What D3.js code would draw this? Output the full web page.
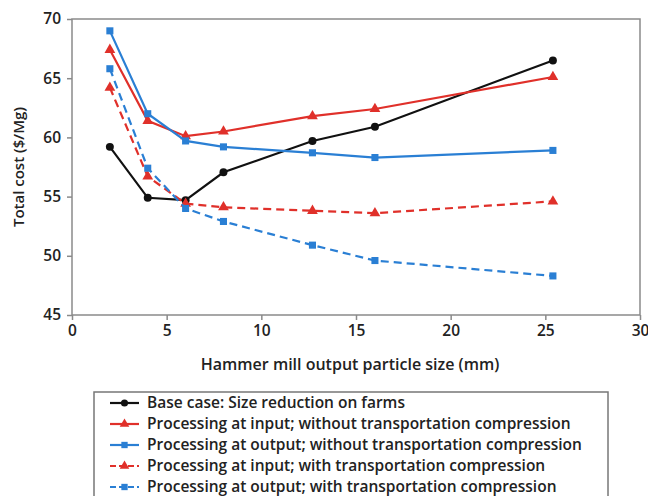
<!DOCTYPE html>
<html><head><meta charset="utf-8">
<script src="https://cdn.jsdelivr.net/npm/d3@7"></script>
<style>body{margin:0;background:#fff}svg{display:block}text{font-family:"Open Sans",Lato,sans-serif;font-weight:600;fill:#222}</style>
</head><body><svg id="c" width="648" height="496"></svg>
<script>
const sizes = [2, 4, 6, 8, 12.7, 16, 25.4];
const baseCase = [59.2, 54.9, 54.7, 57.05, 59.7, 60.9, 66.5];
const inputNoComp = [67.4, 61.4, 60.1, 60.5, 61.8, 62.4, 65.1];
const outputNoComp = [69.0, 62.0, 59.7, 59.2, 58.7, 58.3, 58.9];
const inputComp = [64.2, 56.7, 54.4, 54.1, 53.8, 53.6, 54.6];
const outputComp = [65.8, 57.4, 54.0, 52.9, 50.9, 49.6, 48.3];
const seriesNames = ["Base case: Size reduction on farms",
  "Processing at input; without transportation compression",
  "Processing at output; without transportation compression",
  "Processing at input; with transportation compression",
  "Processing at output; with transportation compression"];
const xTicks = [0, 5, 10, 15, 20, 25, 30];
const yTicks = [45, 50, 55, 60, 65, 70];

const series = [
  {name: seriesNames[0], values: baseCase, color: "#111", dash: null, marker: "circle"},
  {name: seriesNames[1], values: inputNoComp, color: "#e0302a", dash: null, marker: "triangle"},
  {name: seriesNames[2], values: outputNoComp, color: "#2a7fd4", dash: null, marker: "square"},
  {name: seriesNames[3], values: inputComp, color: "#e0302a", dash: "8,5", marker: "triangle"},
  {name: seriesNames[4], values: outputComp, color: "#2a7fd4", dash: "8,5", marker: "square"}
];

const svg = d3.select("#c");
const L = 72, R = 640, T = 19, B = 315;
const x = d3.scaleLinear().domain([0, 30]).range([L, R]);
const y = d3.scaleLinear().domain([45, 70]).range([B, T]);

svg.append("rect").attr("x", L).attr("y", T).attr("width", R - L).attr("height", B - T)
  .attr("fill", "none").attr("stroke", "#8a8a8a").attr("stroke-width", 1.5);

const xa = svg.append("g").attr("transform", `translate(0,${B})`)
  .call(d3.axisBottom(x).tickValues(xTicks).tickSize(5).tickPadding(5).tickFormat(d3.format("d")));
const ya = svg.append("g").attr("transform", `translate(${L},0)`)
  .call(d3.axisLeft(y).tickValues(yTicks).tickSize(5).tickPadding(6).tickFormat(d3.format("d")));
[xa, ya].forEach(g => {
  g.select(".domain").remove();
  g.selectAll("line").attr("stroke", "#8a8a8a").attr("stroke-width", 1.5);
  g.selectAll("text").style("font-size", "15.5px").style("font-family", "'Open Sans', sans-serif")
    .style("font-weight", "600").attr("fill", "#222");
});

svg.append("text").attr("x", 350).attr("y", 370).attr("text-anchor", "middle")
  .style("font-size", "16px").text("Hammer mill output particle size (mm)");
svg.append("text").attr("transform", `translate(24,${(T + B) / 2}) rotate(-90)`).attr("text-anchor", "middle")
  .style("font-size", "15px").text("Total cost ($/Mg)");

const line = d3.line().x((d, i) => x(sizes[i])).y(d => y(d));
const sym = {circle: d3.symbolCircle, triangle: d3.symbolTriangle, square: d3.symbolSquare};
const symSize = {circle: 50, triangle: 50, square: 50};

function drawMarker(g, s, cx, cy, scale) {
  g.append("path").attr("d", d3.symbol().type(sym[s.marker]).size(symSize[s.marker] * scale)())
    .attr("transform", `translate(${cx},${cy})`).attr("fill", s.color);
}

series.forEach(s => {
  const g = svg.append("g");
  g.append("path").attr("d", line(s.values)).attr("fill", "none").attr("stroke", s.color)
    .attr("stroke-width", 2.2).attr("stroke-dasharray", s.dash);
  s.values.forEach((v, i) => drawMarker(g, s, x(sizes[i]), y(v), 1));
});

// legend
const lg = svg.append("g");
lg.append("rect").attr("x", 94).attr("y", 392).attr("width", 514).attr("height", 120)
  .attr("fill", "#fff").attr("stroke", "#777").attr("stroke-width", 1.5);
series.forEach((s, i) => {
  const cy = 403 + i * 21;
  lg.append("line").attr("x1", 110).attr("x2", 139).attr("y1", cy).attr("y2", cy)
    .attr("stroke", s.color).attr("stroke-width", 2.2).attr("stroke-dasharray", s.dash ? "6,3" : null);
  drawMarker(lg, s, 124.5, cy, 0.8);
  lg.append("text").attr("x", 147).attr("y", cy).attr("dy", "0.35em")
    .style("font-size", "15.5px").text(s.name);
});
</script></body></html>
